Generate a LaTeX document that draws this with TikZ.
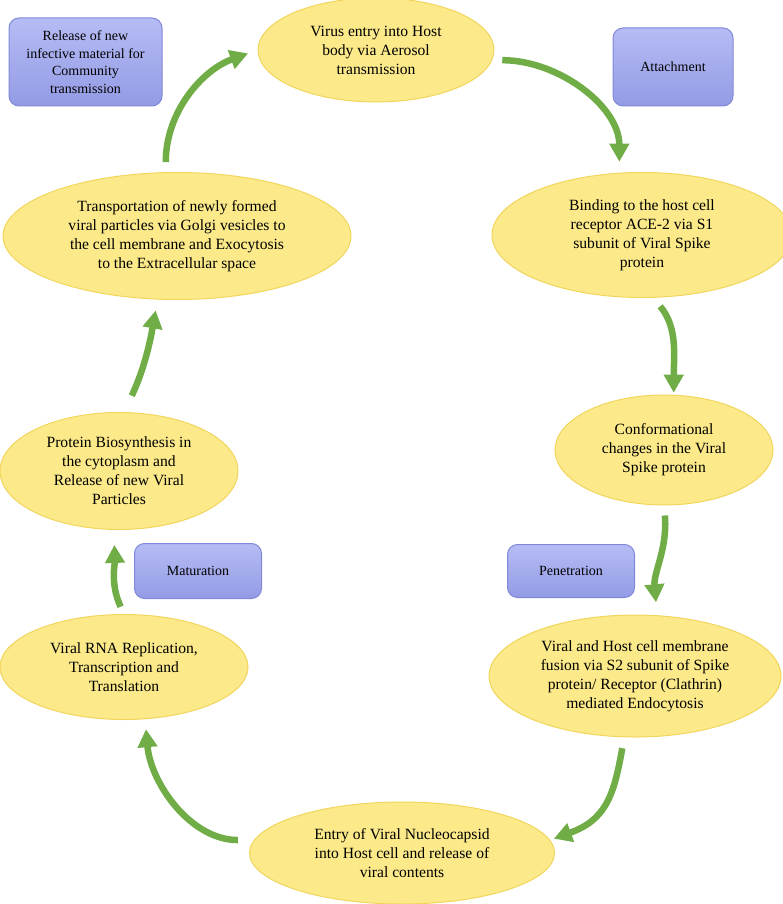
\documentclass[tikz,border=0pt]{standalone}
\usepackage{fontspec}
\setmainfont{Liberation Serif}
\usetikzlibrary{shapes.geometric,arrows.meta}

\definecolor{stagefill}{HTML}{FBE98A}
\definecolor{stageline}{HTML}{F2D55C}
\definecolor{phasetop}{HTML}{B6BCF4}
\definecolor{phasebot}{HTML}{939BE5}
\definecolor{phaseline}{HTML}{8088D8}
\definecolor{flowgreen}{HTML}{70AD47}

\begin{document}
\begin{tikzpicture}[x=1pt, y=-1pt, line join=round,
    stage/.style={ellipse, fill=stagefill, draw=stageline, line width=1pt,
      inner sep=0pt, align=center, font=\fontsize{15.6}{19}\selectfont},
    phase/.style={rectangle, rounded corners=10pt, top color=phasetop,
      bottom color=phasebot, draw=phaseline, line width=1pt, inner sep=0pt,
      align=center, font=\fontsize{14}{17.6}\selectfont},
    flowarrow/.style={draw=flowgreen, line width=6.5pt,
      -{Triangle[width=19pt,length=18pt]}}]
  % Page window
  \useasboundingbox (0,0) rectangle (783,904);

  % Stages of the cycle
  \node[stage, minimum width=236pt, minimum height=104pt] (virus) at (376,50)
    {Virus entry into Host\\body via Aerosol\\transmission};
  \node[stage, minimum width=300pt, minimum height=125pt] (binding) at (642,235)
    {Binding to the host cell\\receptor ACE-2 via S1\\subunit of Viral Spike\\protein};
  \node[stage, minimum width=218pt, minimum height=110pt] (conform) at (664,450)
    {Conformational\\changes in the Viral\\Spike protein};
  \node[stage, minimum width=292pt, minimum height=122pt] (fusion) at (635,676)
    {Viral and Host cell membrane\\fusion via S2 subunit of Spike\\protein/ Receptor (Clathrin)\\mediated Endocytosis};
  \node[stage, minimum width=305pt, minimum height=102pt] (entry) at (402,853)
    {Entry of Viral Nucleocapsid\\into Host cell and release of\\viral contents};
  \node[stage, minimum width=248pt, minimum height=105pt] (rna) at (124,667)
    {Viral RNA Replication,\\Transcription and\\Translation};
  \node[stage, minimum width=238pt, minimum height=117pt] (protein) at (119,471)
    {Protein Biosynthesis in\\the cytoplasm and\\Release of new Viral\\Particles};
  \node[stage, minimum width=348pt, minimum height=127pt] (transport) at (177,236)
    {Transportation of newly formed\\viral particles via Golgi vesicles to\\the cell membrane and Exocytosis\\to the Extracellular space};

  % Phase labels
  \node[phase, minimum width=153pt, minimum height=88pt] (release) at (85.5,62)
    {Release of new\\infective material for\\Community\\transmission};
  \node[phase, minimum width=120pt, minimum height=78pt] (attach) at (673,67)
    {Attachment};
  \node[phase, minimum width=127pt, minimum height=53pt] (penet) at (571,571)
    {Penetration};
  \node[phase, minimum width=127pt, minimum height=55pt] (matur) at (198,571)
    {Maturation};

  % Curved arrows round the cycle
  \draw[flowarrow, shorten <=10pt, shorten >=11pt]
    (virus.-5) to[out=0, in=90] (binding.110);
  \draw[flowarrow, shorten <=11pt, shorten >=2pt]
    (binding.-80) to[out=-50, in=90] (conform.80);
  \draw[flowarrow, shorten <=10pt, shorten >=13pt]
    (conform.south) to[out=-85, in=95] (fusion.70);
  \draw[flowarrow, shorten <=11pt, shorten >=4pt]
    (fusion.-100) to[out=-100, in=20, looseness=1.2] (entry.5);
  \draw[flowarrow, shorten <=16pt, shorten >=10pt]
    (entry.175) to[out=180, in=-85] (rna.-68);
  \draw[flowarrow, shorten <=8pt, shorten >=15pt]
    (rna.north) to[out=115, in=-88] (protein.-95);
  \draw[flowarrow, shorten <=18pt, shorten >=11pt]
    (protein.85) to[out=65, in=-100] (transport.-107);
  \draw[flowarrow, shorten <=10pt, shorten >=10pt]
    (transport.100) to[out=90, in=200] (virus.west);
\end{tikzpicture}
\end{document}
